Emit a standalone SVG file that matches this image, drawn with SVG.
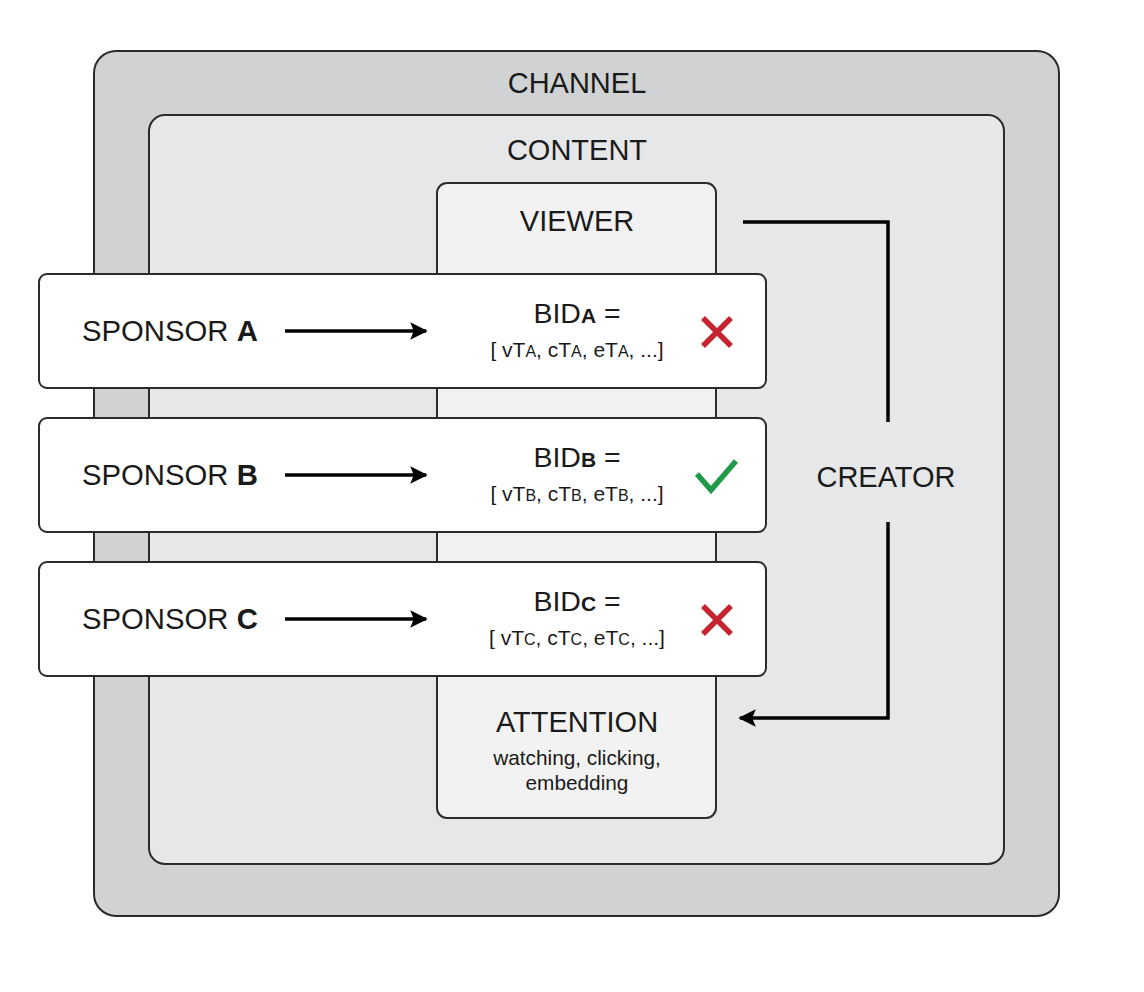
<svg xmlns="http://www.w3.org/2000/svg" width="1144" height="992" viewBox="0 0 1144 992">
<style>
text{font-family:"Liberation Sans",Arial,sans-serif;fill:#1a1a1a}
.box{stroke:#2b2b2b;stroke-width:2}
.lbl{font-size:29px;text-anchor:middle}
.sp{font-size:29.3px}
.bid{font-size:28.5px;text-anchor:middle}
.sub{font-size:21px;text-anchor:middle}
.sc{font-size:16px}
.b{font-weight:bold}
.conn{fill:none;stroke:#000;stroke-width:3.5}
</style>
<defs>
<marker id="ah" viewBox="0 0 10 10" refX="9" refY="5" markerWidth="5" markerHeight="5" orient="auto" markerUnits="strokeWidth">
<path d="M0,0 L10,5 L0,10 L2,5 Z" fill="#000"/>
</marker>
</defs>
<rect width="1144" height="992" fill="#fff"/>
<g id="channel">
<rect class="box" x="94" y="51" width="965" height="865" rx="22" fill="#d1d2d4"/>
<text class="lbl" x="577" y="93">CHANNEL</text>
</g>
<g id="content">
<rect class="box" x="149" y="115" width="855" height="749" rx="16" fill="#e6e7e9"/>
<text class="lbl" x="577" y="160">CONTENT</text>
</g>
<g id="viewer">
<rect class="box" x="437" y="183" width="279" height="635" rx="10" fill="#f2f2f2"/>
<text class="lbl" x="577" y="231">VIEWER</text>
</g>
<g id="attention">
<text class="lbl" x="577" y="732">ATTENTION</text>
<text x="577" y="765" font-size="20.8" text-anchor="middle">watching, clicking,</text>
<text x="577" y="790" font-size="20.8" text-anchor="middle">embedding</text>
</g>
<g id="creator">
<text class="lbl" x="886" y="487">CREATOR</text>
</g>
<g id="sponsorA">
<rect class="box" x="39" y="274" width="727" height="114" rx="8" fill="#fff"/>
<text class="sp" x="82" y="341">SPONSOR <tspan class="b">A</tspan></text>
<text class="bid" x="577" y="323">BID<tspan class="b" font-size="21">A</tspan> =</text>
<text class="sub" x="577" y="357">[ vT<tspan class="sc">A</tspan>, cT<tspan class="sc">A</tspan>, eT<tspan class="sc">A</tspan>, ...]</text>
<path d="M703,318 L731,346 M731,318 L703,346" stroke="#c4232f" stroke-width="5.5" fill="none"/>
</g>
<g id="sponsorB">
<rect class="box" x="39" y="418" width="727" height="114" rx="8" fill="#fff"/>
<text class="sp" x="82" y="485">SPONSOR <tspan class="b">B</tspan></text>
<text class="bid" x="577" y="467">BID<tspan class="b" font-size="21">B</tspan> =</text>
<text class="sub" x="577" y="501">[ vT<tspan class="sc">B</tspan>, cT<tspan class="sc">B</tspan>, eT<tspan class="sc">B</tspan>, ...]</text>
<path d="M697,474 L711,490 L736,461" stroke="#1f9a48" stroke-width="5.5" fill="none"/>
</g>
<g id="sponsorC">
<rect class="box" x="39" y="562" width="727" height="114" rx="8" fill="#fff"/>
<text class="sp" x="82" y="629">SPONSOR <tspan class="b">C</tspan></text>
<text class="bid" x="577" y="611">BID<tspan class="b" font-size="21">C</tspan> =</text>
<text class="sub" x="577" y="645">[ vT<tspan class="sc">C</tspan>, cT<tspan class="sc">C</tspan>, eT<tspan class="sc">C</tspan>, ...]</text>
<path d="M703,606 L731,634 M731,606 L703,634" stroke="#c4232f" stroke-width="5.5" fill="none"/>
</g>
<g id="connectors">
<line class="conn" x1="285" y1="331" x2="426" y2="331" stroke-width="3" marker-end="url(#ah)"/>
<line class="conn" x1="285" y1="475" x2="426" y2="475" stroke-width="3" marker-end="url(#ah)"/>
<line class="conn" x1="285" y1="619" x2="426" y2="619" stroke-width="3" marker-end="url(#ah)"/>
<path class="conn" d="M743,222 L888,222 L888,422"/>
<path class="conn" d="M888,522 L888,718 L740,718" marker-end="url(#ah)"/>
</g>
</svg>
